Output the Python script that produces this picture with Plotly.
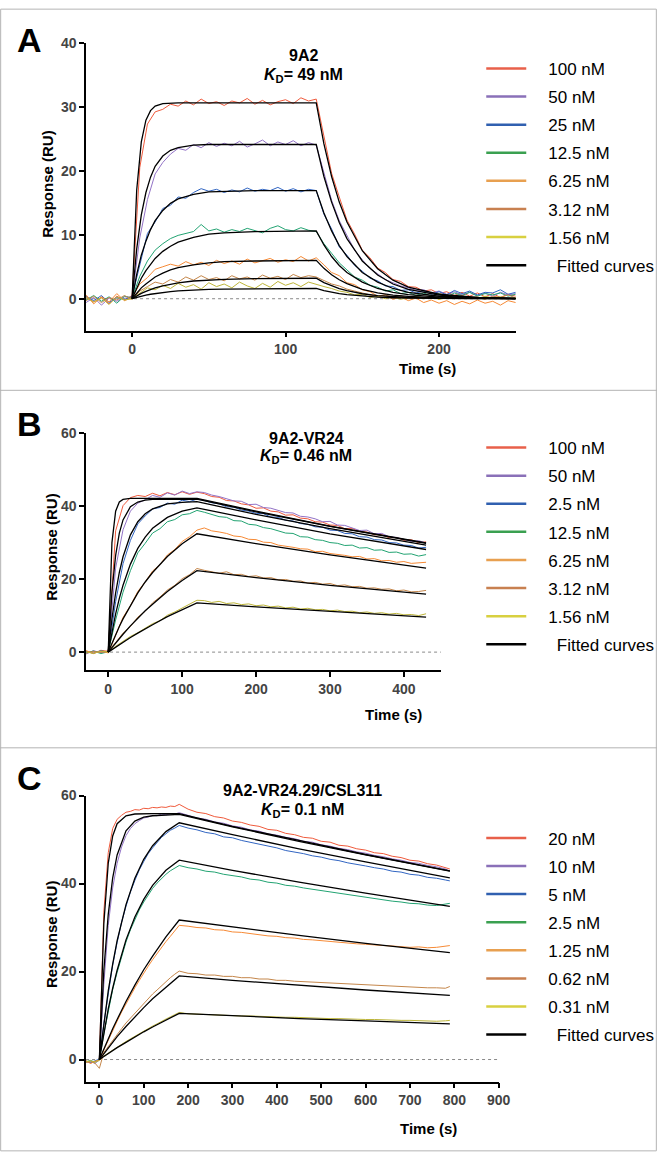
import plotly.graph_objects as go

# ---------------- panel A : 9A2 ----------------
tA = list(range(-30, 251, 5))
A_100 = [0.3, -0.5, 0.2, -0.8, 0.4, -0.2, 0.5,
         20.5, 27.3, 29.2, 29.6, 30.4, 30.1, 30.9, 30.3, 31.2, 30.5, 30.8, 30.2, 30.9, 30.6, 31.3, 30.4, 31.0, 30.3, 30.8, 31.1, 30.5, 31.4, 30.9, 31.2,
         25.3, 19.6, 15.9, 12.3, 10.1, 7.6, 6.4, 4.8, 4.1, 3.0, 2.7, 1.9, 1.8, 1.2, 1.4, 0.8, 1.1, 0.5, 1.0, 0.4, 0.9, 0.3, 0.8, 0.2, 0.7, 0.4]
A_50 = [-0.6, 0.2, -1.0, 0.1, -0.4, 0.3, 0.2,
        9.5, 15.5, 19.5, 21.3, 22.6, 23.5, 23.2, 24.1, 23.6, 24.4, 23.8, 24.3, 23.9, 24.6, 23.7, 24.2, 24.8, 23.9, 24.5, 24.1, 24.7, 23.9, 24.4, 24.0,
        19.5, 15.4, 12.2, 9.8, 7.6, 6.1, 4.7, 3.9, 3.0, 2.5, 2.0, 1.7, 1.3, 1.4, 0.9, 1.2, 0.7, 1.1, 0.6, 1.0, 0.5, 0.9, 0.4, 1.0, 0.6, 0.8]
A_25 = [0.4, -0.3, 0.5, -0.6, 0.2, -0.1, 0.3,
        5.5, 10.2, 12.0, 14.1, 14.6, 15.9, 15.7, 16.6, 17.2, 16.8, 17.1, 16.6, 17.0, 16.7, 17.3, 16.8, 17.1, 16.9, 17.4, 16.8, 17.2, 16.7, 17.1, 16.9,
        13.2, 10.9, 8.1, 6.8, 5.2, 4.3, 3.2, 2.8, 2.0, 1.9, 1.3, 1.4, 0.9, 1.2, 0.7, 1.1, 0.6, 1.3, 0.8, 1.2, 0.6, 1.0, 0.9, 1.4, 0.7, 1.0]
A_12p5 = [-0.2, 0.5, -0.4, 0.3, -0.7, 0.4, 0.1,
          3.5, 5.9, 7.6, 8.6, 9.4, 9.9, 10.2, 10.5, 11.6, 10.6, 10.9, 10.4, 10.8, 10.5, 11.0, 10.7, 10.3, 11.0, 11.4, 10.8, 10.6, 11.1, 10.7, 10.5,
          8.6, 7.1, 5.6, 4.5, 3.4, 2.9, 2.1, 1.8, 1.2, 1.4, 0.8, 1.0, 0.5, 0.9, 0.4, 0.8, 0.3, 0.9, 0.5, 1.0, 0.4, 0.8, 0.6, 0.9, 0.4, 0.7]
A_6p25 = [0.6, -0.8, 0.3, -0.5, 0.8, -0.3, 0.2,
          2.3, 3.3, 4.6, 5.0, 5.4, 5.1, 5.8, 5.3, 5.7, 5.2, 6.0, 5.5, 5.9, 5.4, 6.2, 5.6, 5.9, 6.3, 5.7, 6.1, 5.8, 6.6, 5.9, 6.4,
          5.3, 4.1, 3.6, 2.5, 2.2, 1.4, 1.1, 0.4, 0.6, -0.1, 0.3, -0.3, 0.1, -0.6, -0.2, -0.7, -0.3, -0.9, -0.4, -0.8, -0.2, -0.7, -0.4, -1.0, -0.3, -0.6]
A_3p12 = [-0.3, 0.4, -0.6, 0.2, -0.2, 0.5, -0.1,
          1.2, 1.9, 2.6, 2.3, 3.0, 2.6, 3.4, 2.9, 3.6, 3.0, 3.3, 2.8, 3.6, 3.1, 3.4, 2.9, 3.7, 3.2, 3.5, 3.0, 3.8, 3.3, 3.6, 3.4,
          2.8, 2.3, 2.0, 1.5, 1.2, 0.9, 0.7, 0.3, 0.6, 0.2, 0.5, 0.0, 0.4, 0.1, 0.5, -0.1, 0.4, 0.0, 0.5, 0.1, 0.3, -0.1, 0.4, 0.2, 0.6, 0.1]
A_1p56 = [0.2, -0.5, 0.1, -0.9, 0.3, -0.2, 0.0,
          0.9, 1.7, 1.4, 2.1, 1.6, 2.4, 1.8, 2.2, 1.5, 2.5, 1.9, 2.3, 1.7, 2.6, 2.0, 1.6, 2.4, 1.8, 2.7, 2.1, 2.5, 1.9, 2.6, 2.2,
          1.9, 1.6, 1.2, 1.0, 0.6, 0.7, 0.2, 0.4, 0.0, 0.3, -0.1, 0.2, 0.4, 0.0, 0.3, -0.1, 0.2, 0.5, 0.1, 0.3, 0.0, 0.4, 0.1, 0.3, 0.0, 0.2]

tA_fit = [0, 3, 6, 9, 12, 15, 20, 25, 30, 40, 50, 60, 80, 100, 120, 125, 130, 135, 140, 150, 160, 170, 180, 200, 225, 250]
A_fit_100 = [0, 17.0, 24.5, 27.9, 29.4, 30.1, 30.5, 30.6, 30.6, 30.6, 30.6, 30.6, 30.6, 30.6, 30.6, 24.2, 19.1, 15.1, 12.0, 7.5, 4.7, 2.9, 1.8, 0.7, 0.2, 0.07]
A_fit_50 = [0, 7.8, 13.1, 16.6, 19.0, 20.7, 22.3, 23.2, 23.6, 24.0, 24.1, 24.1, 24.1, 24.1, 24.1, 19.1, 15.1, 11.9, 9.4, 5.9, 3.7, 2.3, 1.45, 0.55, 0.17, 0.05]
A_fit_25 = [0, 3.8, 6.8, 9.0, 10.8, 12.2, 13.8, 14.9, 15.6, 16.3, 16.7, 16.8, 16.9, 16.9, 16.9, 13.4, 10.6, 8.3, 6.6, 4.1, 2.6, 1.6, 1.0, 0.39, 0.12, 0.04]
A_fit_12p5 = [0, 1.75, 3.2, 4.4, 5.4, 6.3, 7.4, 8.2, 8.85, 9.6, 10.1, 10.3, 10.5, 10.6, 10.6, 8.4, 6.6, 5.2, 4.1, 2.6, 1.6, 1.0, 0.64, 0.24, 0.08, 0.02]
A_fit_6p25 = [0, 0.9, 1.7, 2.3, 2.9, 3.4, 4.0, 4.5, 4.85, 5.3, 5.6, 5.8, 5.9, 6.0, 6.0, 4.75, 3.75, 2.96, 2.35, 1.46, 0.92, 0.57, 0.36, 0.14, 0.04, 0.01]
A_fit_3p12 = [0, 0.45, 0.83, 1.16, 1.44, 1.69, 2.02, 2.28, 2.49, 2.77, 2.94, 3.04, 3.14, 3.18, 3.2, 2.53, 2.0, 1.58, 1.25, 0.78, 0.49, 0.30, 0.19, 0.07, 0.02, 0.0]
A_fit_1p56 = [0, 0.21, 0.4, 0.56, 0.70, 0.82, 0.99, 1.12, 1.22, 1.36, 1.45, 1.51, 1.57, 1.59, 1.6, 1.27, 1.0, 0.79, 0.63, 0.39, 0.24, 0.15, 0.1, 0.04, 0.01, 0.0]
A_labels = ["100 nM", "50 nM", "25 nM", "12.5 nM", "6.25 nM", "3.12 nM", "1.56 nM"]

# ---------------- panel B : 9A2-VR24 ----------------
tB = list(range(-30, 431, 10))
B_100 = [0.3, -0.4, 0.5, 0.2,
         33.2, 40.1, 42.3, 42.9, 42.6, 43.5, 42.8, 43.7, 43.1, 43.9, 43.2, 43.8,
         43.4, 42.6, 42.4, 41.5, 41.4, 40.6, 40.3, 39.4, 39.5, 38.6, 38.4, 37.5, 37.6, 36.7, 36.5, 35.7, 35.6, 34.8, 34.7, 33.8, 33.9, 33.0, 32.9, 32.1, 32.2, 31.3, 31.4, 30.6, 30.8, 29.9, 30.2]
B_50 = [-0.5, 0.4, -0.2, 0.1,
        23.0, 33.5, 38.6, 40.8, 41.7, 42.9, 42.4, 43.6, 43.0, 44.1, 43.4, 43.9,
        43.7, 43.0, 42.6, 42.1, 41.4, 41.3, 40.4, 40.5, 39.6, 39.4, 38.9, 38.2, 38.1, 37.2, 37.0, 36.5, 35.7, 35.8, 34.8, 34.7, 34.0, 33.3, 33.4, 32.4, 32.5, 31.6, 31.4, 30.9, 30.3, 30.5, 29.9]
B_25 = [0.2, -0.3, 0.4, -0.1,
        13.8, 24.2, 30.6, 35.1, 37.3, 39.2, 39.6, 40.8, 40.5, 41.6, 41.2, 41.9,
        41.5, 40.9, 40.6, 39.8, 39.7, 38.9, 38.6, 38.0, 37.9, 37.0, 36.9, 36.1, 35.9, 35.2, 35.0, 34.3, 34.2, 33.4, 33.3, 32.5, 32.4, 31.6, 31.5, 30.8, 30.7, 30.0, 29.9, 29.3, 29.2, 28.5, 28.7]
B_12p5 = [-0.2, 0.3, -0.4, 0.1,
          8.8, 16.4, 22.3, 27.2, 29.8, 32.6, 33.8, 35.7, 36.3, 37.6, 37.9, 38.8,
          38.3, 37.8, 37.1, 36.9, 36.0, 35.9, 35.0, 34.8, 34.1, 33.8, 33.2, 32.6, 32.5, 31.6, 31.5, 30.8, 30.6, 30.0, 29.8, 29.2, 29.3, 28.5, 28.6, 27.9, 28.0, 27.3, 27.4, 26.8, 26.9, 26.3, 26.7]
B_6p25 = [0.4, -0.3, 0.2, -0.2,
          4.6, 9.5, 12.7, 16.6, 19.2, 22.2, 24.0, 26.6, 28.1, 30.3, 31.6, 33.4,
          34.0, 33.2, 32.9, 32.5, 31.8, 31.6, 30.9, 30.8, 30.1, 30.0, 29.3, 29.1, 28.7, 28.3, 28.2, 27.5, 27.6, 27.0, 26.8, 26.5, 26.1, 26.2, 25.5, 25.6, 25.0, 25.1, 24.6, 24.8, 24.3, 24.4, 24.6]
B_3p12 = [-0.3, 0.2, -0.1, 0.3,
          2.6, 5.2, 7.0, 9.6, 11.2, 13.5, 15.1, 17.0, 18.3, 20.1, 21.2, 22.9,
          22.4, 22.1, 21.6, 22.0, 21.2, 21.3, 20.7, 20.9, 20.3, 20.4, 19.8, 19.9, 19.4, 19.5, 18.9, 19.1, 18.6, 18.8, 18.2, 18.4, 17.9, 18.0, 17.5, 17.6, 17.2, 17.3, 16.8, 17.0, 16.5, 16.6, 16.9]
B_1p56 = [0.1, -0.4, 0.3, 0.0,
          1.6, 2.9, 4.3, 5.3, 6.6, 7.8, 8.6, 10.1, 11.0, 12.1, 13.0, 14.2,
          14.1, 13.6, 13.9, 13.3, 13.5, 13.0, 13.2, 12.7, 12.9, 12.4, 12.6, 12.1, 12.3, 11.8, 12.0, 11.6, 11.7, 11.3, 11.5, 11.1, 11.2, 10.8, 11.0, 10.6, 10.8, 10.4, 10.6, 10.2, 10.3, 10.0, 10.5]

tB_fit = [0, 5, 10, 15, 20, 30, 40, 50, 60, 80, 100, 120, 200, 300, 430]
B_fit_100 = [0, 30.0, 38.6, 41.1, 41.8, 42.1, 42.1, 42.1, 42.1, 42.1, 42.1, 42.1, 38.6, 34.5, 29.9]
B_fit_50 = [0, 16.5, 26.5, 32.6, 36.2, 39.8, 41.1, 41.6, 41.8, 41.9, 41.9, 41.9, 38.4, 34.4, 29.8]
B_fit_25 = [0, 9.1, 16.2, 21.8, 26.1, 32.1, 35.7, 37.9, 39.2, 40.6, 41.0, 41.2, 37.7, 33.8, 29.3]
B_fit_12p5 = [0, 5.6, 10.5, 14.7, 18.3, 24.1, 28.4, 31.5, 33.9, 36.9, 38.6, 39.5, 36.2, 32.4, 28.1]
B_fit_6p25 = [0, 2.5, 4.8, 7.0, 9.1, 12.8, 16.2, 19.2, 21.8, 26.2, 29.7, 32.4, 29.7, 26.6, 23.0]
B_fit_3p12 = [0, 1.3, 2.5, 3.7, 4.9, 7.2, 9.3, 11.3, 13.1, 16.6, 19.6, 22.3, 20.4, 18.3, 15.9]
B_fit_1p56 = [0, 0.7, 1.4, 2.1, 2.7, 4.0, 5.2, 6.4, 7.5, 9.7, 11.7, 13.5, 12.4, 11.1, 9.6]
B_labels = ["100 nM", "50 nM", "2.5 nM", "12.5 nM", "6.25 nM", "3.12 nM", "1.56 nM"]

# ---------------- panel C : 9A2-VR24.29/CSL311 ----------------
tC = [-30, -20, -10, 0] + list(range(10, 181, 10)) + list(range(200, 781, 20)) + [790]
C_20 = [-0.3, -0.8, -0.5, 0.0,
        33.5, 47.0, 52.5, 54.6, 55.5, 56.2, 56.4, 56.8, 56.7, 57.1, 57.0, 57.3, 57.2, 57.4, 57.3, 57.6, 57.5, 58.0,
        56.9, 56.2, 55.9, 55.2, 54.9, 54.2, 53.9, 53.3, 53.0, 52.3, 52.1, 51.4, 51.1, 50.5, 50.3, 49.6, 49.4, 48.7, 48.5, 47.9, 47.6, 47.0, 46.8, 46.2, 45.9, 45.3, 45.1, 44.5, 44.2, 43.7, 43.3]
C_10 = [-0.6, -0.4, -0.9, -0.1,
        17.0, 30.5, 39.0, 44.6, 48.3, 50.9, 52.5, 53.6, 54.3, 54.9, 55.1, 55.5, 55.4, 55.8, 55.6, 55.9, 55.8, 56.1,
        55.5, 54.9, 54.6, 54.0, 53.7, 53.1, 52.8, 52.2, 51.9, 51.3, 51.0, 50.5, 50.2, 49.6, 49.4, 48.8, 48.5, 48.0, 47.7, 47.2, 46.9, 46.4, 46.1, 45.6, 45.3, 44.8, 44.6, 44.1, 43.8, 43.3, 42.8]
C_5 = [-0.4, -0.7, -0.3, 0.1,
       8.2, 15.3, 21.5, 26.6, 31.2, 34.8, 38.1, 40.7, 43.1, 45.0, 46.8, 48.1, 49.4, 50.5, 51.3, 52.1, 52.6, 53.2,
       52.6, 52.2, 51.6, 51.3, 50.6, 50.4, 49.8, 49.4, 48.9, 48.5, 48.1, 47.5, 47.2, 46.8, 46.3, 46.0, 45.5, 45.2, 44.7, 44.4, 44.0, 43.6, 43.3, 42.8, 42.6, 42.1, 41.9, 41.4, 41.2, 40.8, 40.6]
C_2p5 = [-0.5, -0.2, -0.6, 0.0,
         5.8, 11.2, 15.9, 19.8, 23.5, 26.7, 29.5, 31.9, 34.0, 35.8, 37.5, 38.9, 40.1, 41.2, 42.1, 42.9, 43.5, 44.1,
         43.6, 43.3, 42.8, 42.6, 42.1, 41.8, 41.5, 41.0, 40.8, 40.3, 40.1, 39.6, 39.4, 39.0, 38.7, 38.4, 38.0, 37.8, 37.4, 37.2, 36.8, 36.6, 36.3, 36.0, 35.8, 35.5, 35.4, 35.1, 35.0, 35.3, 35.5]
C_1p25 = [-0.3, -0.9, -0.4, -0.1,
          2.2, 4.5, 6.7, 8.7, 10.8, 12.7, 14.6, 16.3, 18.0, 19.7, 21.2, 22.7, 24.1, 25.5, 26.8, 28.0, 29.3, 30.5,
          30.3, 30.0, 29.9, 29.5, 29.4, 29.0, 28.9, 28.6, 28.4, 28.1, 28.0, 27.7, 27.6, 27.3, 27.2, 27.0, 26.8, 26.7, 26.5, 26.3, 26.2, 26.0, 25.9, 25.8, 25.7, 25.5, 25.6, 25.4, 25.5, 25.7, 25.9]
C_0p62 = [-0.7, -0.4, -0.8, -2.0,
          1.6, 3.0, 4.4, 5.8, 7.0, 8.3, 9.4, 10.6, 11.7, 12.8, 13.8, 14.9, 15.8, 16.8, 17.7, 18.6, 19.4, 20.1,
          19.6, 19.5, 19.2, 19.2, 18.9, 18.9, 18.6, 18.6, 18.3, 18.3, 18.0, 18.0, 17.8, 17.7, 17.5, 17.5, 17.3, 17.2, 17.1, 17.0, 16.9, 16.8, 16.7, 16.6, 16.6, 16.5, 16.4, 16.3, 16.3, 16.2, 16.6]
C_0p31 = [-0.5, -0.3, -0.6, -0.2,
          0.8, 1.5, 2.2, 2.8, 3.5, 4.1, 4.7, 5.3, 5.9, 6.5, 7.0, 7.6, 8.1, 8.7, 9.2, 9.7, 10.2, 10.7,
          10.4, 10.3, 10.2, 10.2, 10.1, 10.0, 9.9, 9.9, 9.8, 9.7, 9.7, 9.6, 9.6, 9.5, 9.4, 9.4, 9.3, 9.3, 9.2, 9.2, 9.1, 9.1, 9.0, 9.0, 8.9, 8.9, 8.8, 8.8, 8.7, 8.8, 8.9]

tC_fit = [0, 10, 20, 30, 40, 60, 80, 100, 120, 150, 180, 300, 450, 600, 790]
C_fit_20 = [0, 30.8, 44.6, 50.8, 53.6, 55.4, 55.8, 55.9, 55.9, 55.9, 55.9, 53.0, 49.8, 46.6, 42.9]
C_fit_10 = [0, 20.2, 33.0, 41.3, 46.5, 52.0, 54.2, 55.1, 55.4, 55.6, 55.7, 52.9, 49.6, 46.5, 42.8]
C_fit_5 = [0, 8.4, 15.6, 21.7, 27.0, 35.2, 41.2, 45.5, 48.6, 51.8, 53.8, 51.1, 47.9, 44.9, 41.3]
C_fit_2p5 = [0, 6.1, 11.5, 16.2, 20.3, 27.2, 32.4, 36.4, 39.6, 43.0, 45.3, 43.0, 40.3, 37.8, 34.8]
C_fit_1p25 = [0, 2.4, 4.8, 7.0, 9.1, 13.2, 16.9, 20.4, 23.5, 27.9, 31.7, 30.1, 28.2, 26.4, 24.3]
C_fit_0p62 = [0, 1.35, 2.6, 3.9, 5.2, 7.5, 9.7, 11.8, 13.8, 16.5, 19.0, 18.0, 16.9, 15.8, 14.6]
C_fit_0p31 = [0, 0.69, 1.36, 2.0, 2.7, 3.9, 5.2, 6.3, 7.4, 9.0, 10.5, 10.0, 9.3, 8.8, 8.1]
C_labels = ["20 nM", "10 nM", "5 nM", "2.5 nM", "1.25 nM", "0.62 nM", "0.31 nM"]

trace_colors = ["#ef5a3c", "#9272c6", "#3165c2", "#22a372", "#f68a36", "#c4864a", "#bdb53a"]
legend_colors = ["#e8604a", "#8a70b8", "#3060b0", "#3aa050", "#e8a050", "#c88050", "#d8d040"]
FONT = "Liberation Sans, Arial, sans-serif"
GAP = "\u2002\u2002"

panels = [
    dict(ax="", t=tA, data=[A_100, A_50, A_25, A_12p5, A_6p25, A_3p12, A_1p56],
         tfit=tA_fit, fits=[A_fit_100, A_fit_50, A_fit_25, A_fit_12p5, A_fit_6p25, A_fit_3p12, A_fit_1p56],
         labels=A_labels, legend="legend"),
    dict(ax="2", t=tB, data=[B_100, B_50, B_25, B_12p5, B_6p25, B_3p12, B_1p56],
         tfit=tB_fit, fits=[B_fit_100, B_fit_50, B_fit_25, B_fit_12p5, B_fit_6p25, B_fit_3p12, B_fit_1p56],
         labels=B_labels, legend="legend2"),
    dict(ax="3", t=tC, data=[C_20, C_10, C_5, C_2p5, C_1p25, C_0p62, C_0p31],
         tfit=tC_fit, fits=[C_fit_20, C_fit_10, C_fit_5, C_fit_2p5, C_fit_1p25, C_fit_0p62, C_fit_0p31],
         labels=C_labels, legend="legend3"),
]

fig = go.Figure()
for p in panels:
    xa, ya = "x" + p["ax"], "y" + p["ax"]
    # zero reference line
    fig.add_shape(type="line", xref=xa + " domain", yref=ya, x0=0, x1=1, y0=0, y1=0,
                  line=dict(color="#8a8a8a", width=1, dash="dot"), layer="below")
    for vals, col in zip(p["data"], trace_colors):
        fig.add_trace(go.Scatter(x=p["t"], y=vals, mode="lines", xaxis=xa, yaxis=ya,
                                 line=dict(color=col, width=1), showlegend=False, hoverinfo="skip"))
    for vals in p["fits"]:
        fig.add_trace(go.Scatter(x=p["tfit"], y=vals, mode="lines", xaxis=xa, yaxis=ya,
                                 line=dict(color="black", width=1.3), showlegend=False, hoverinfo="skip"))
    # legend entries
    for lab, col in zip(p["labels"], legend_colors):
        fig.add_trace(go.Scatter(x=[None], y=[None], mode="lines", xaxis=xa, yaxis=ya, name=GAP + lab,
                                 line=dict(color=col, width=2.5), legend=p["legend"], legendgroup=p["legend"] + lab))
    fig.add_trace(go.Scatter(x=[None], y=[None], mode="lines", xaxis=xa, yaxis=ya, name=GAP + "\u2002Fitted curves",
                             line=dict(color="black", width=2.5), legend=p["legend"], legendgroup=p["legend"] + "fit"))

tick_font = dict(family=FONT, size=14, color="#444444", weight="bold")
axis_common = dict(showline=True, linecolor="black", linewidth=1.5, ticks="outside", ticklen=5,
                   tickwidth=1.5, tickcolor="black", showgrid=False, zeroline=False, tickfont=tick_font)

legend_common = dict(xanchor="left", yanchor="top", bgcolor="rgba(0,0,0,0)", tracegroupgap=3,
                     font=dict(family=FONT, size=17, color="black"), itemwidth=40)

fig.update_layout(
    width=669, height=1152, margin=dict(l=0, r=0, t=0, b=0),
    plot_bgcolor="white", paper_bgcolor="white",
    xaxis=dict(domain=[0.131, 0.785], range=[-30, 250], tickvals=[0, 100, 200], anchor="y", **axis_common),
    yaxis=dict(domain=[0.7179, 0.9696], range=[-5, 40], tickvals=[0, 10, 20, 30, 40], anchor="x", **axis_common),
    xaxis2=dict(domain=[0.131, 0.671], range=[-30, 450], tickvals=[0, 100, 200, 300, 400], anchor="y2", **axis_common),
    yaxis2=dict(domain=[0.4210, 0.6285], range=[-5, 60], tickvals=[0, 20, 40, 60], anchor="x2", **axis_common),
    xaxis3=dict(domain=[0.131, 0.759], range=[-30, 900], tickvals=list(range(0, 901, 100)), anchor="y3", **axis_common),
    yaxis3=dict(domain=[0.0616, 0.3116], range=[-5, 60], tickvals=[0, 20, 40, 60], anchor="x3", **axis_common),
    legend=dict(x=0.7325, y=0.9625, **legend_common),
    legend2=dict(x=0.7325, y=0.6311, **legend_common),
    legend3=dict(x=0.7325, y=0.2899, **legend_common),
)

# panel frames
frame = dict(color="#b4b4b4", width=1)
fig.add_shape(type="rect", xref="paper", yref="paper", x0=0.001, x1=0.999, y0=0.001, y1=0.999, line=frame)
for yy in [0.6658, 0.3533]:
    fig.add_shape(type="line", xref="paper", yref="paper", x0=0, x1=1, y0=yy, y1=yy, line=frame)

def note(text, x, y, size, angle=0, xanchor="center"):
    fig.add_annotation(text=text, x=x, y=y, xref="paper", yref="paper", showarrow=False,
                       xanchor=xanchor, yanchor="middle", textangle=angle,
                       font=dict(family=FONT, size=size, color="black"))

# panel letters
note("<b>A</b>", 0.045, 0.972, 34)
note("<b>B</b>", 0.045, 0.636, 34)
note("<b>C</b>", 0.045, 0.327, 34)

# titles
note("<b>9A2</b>", 0.462, 0.9583, 16)
note("<b><i>K</i><sub>D</sub>= 49 nM</b>", 0.462, 0.941, 16)
note("<b>9A2-VR24</b>", 0.466, 0.6241, 16)
note("<b><i>K</i><sub>D</sub>= 0.46 nM</b>", 0.466, 0.6076, 16)
note("<b>9A2-VR24.29/CSL311</b>", 0.461, 0.316, 16)
note("<b><i>K</i><sub>D</sub>= 0.1 nM</b>", 0.461, 0.2986, 16)

# axis titles
for x, y in [(0.650, 0.6849), (0.599, 0.3828), (0.652, 0.0208)]:
    note("<b>Time (s)</b>", x, y, 15)
for x, y in [(0.0732, 0.8464), (0.0785, 0.5286), (0.0785, 0.1901)]:
    note("<b>Response (RU)</b>", x, y, 15, angle=-90)

fig.write_html("out.html", config={"displayModeBar": False},
               post_script="document.body.style.margin='0';")
